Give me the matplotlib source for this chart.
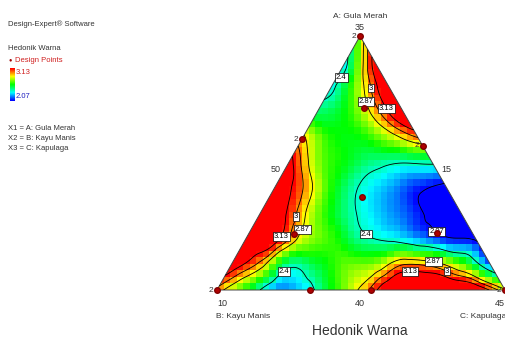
import numpy as np
import matplotlib.pyplot as plt
import matplotlib.tri as mtri
from matplotlib.colors import LinearSegmentedColormap, Normalize
from matplotlib.patches import Polygon

plt.rcParams['font.family'] = ['Liberation Sans', 'DejaVu Sans']

# Hedonik Warna on rows of constant A (Gula Merah), from the B-C edge up to the
# A vertex; every row runs from the B side (Kayu Manis) to the C side (Kapulaga)
warna_a00 = [2.95, 2.60, 2.22, 2.30, 2.60, 2.90, 3.30, 3.40, 3.40, 3.30, 2.90]
warna_a01 = [3.25, 2.95, 2.45, 2.55, 2.70, 2.75, 3.00, 2.95, 2.70, 2.20]
warna_a02 = [3.35, 3.20, 2.80, 2.65, 2.45, 2.37, 2.25, 2.10, 2.05]
warna_a03 = [3.40, 3.10, 2.72, 2.47, 2.30, 2.18, 2.03, 2.00]
warna_a04 = [3.30, 3.00, 2.62, 2.38, 2.25, 2.10, 2.02]
warna_a05 = [3.20, 2.75, 2.58, 2.45, 2.40, 2.42]
warna_a06 = [2.90, 2.62, 2.60, 2.78, 3.00]
warna_a07 = [2.50, 2.60, 2.93, 3.35]
warna_a08 = [2.35, 2.80, 3.35]
warna_a09 = [2.35, 3.20]
warna_a10 = [2.75]

# design points as fractions of A and C (B is the rest), with replicate counts
titik_a = [1.0, 0.717, 0.594, 0.567, 0.366, 0.220, 0.224, 0.0, 0.0, 0.0, 0.0]
titik_c = [0.0, 0.154, 0.0, 0.434, 0.321, 0.158, 0.653, 0.0, 0.323, 0.535, 1.0]
titik_rep = [2, 1, 2, 2, 1, 1, 1, 2, 1, 1, 2]

level = [2.07, 2.4, 2.87, 3.0, 3.13]
level_teks = {2.07: '2.07', 2.4: '2.4', 2.87: '2.87', 3.0: '3', 3.13: '3.13'}

W, H = 506, 340
TOP_X = 0.4965  # x of the A vertex, B-C edge runs from 0 to 1


def ke_xy(a, c):
    a = np.asarray(a, float)
    c = np.asarray(c, float)
    return c + TOP_X * a, a


def px(x, y):
    return x / W, 1 - y / H


def ax_px(x, y):
    # pixel position inside the triangle box -> data coordinates
    return (x - 217) / 288, (290 - y) / 254


baris = [warna_a00, warna_a01, warna_a02, warna_a03, warna_a04, warna_a05,
         warna_a06, warna_a07, warna_a08, warna_a09, warna_a10]
n = len(baris) - 1
ga, gc, gz = [], [], []
for i, row in enumerate(baris):
    for j, v in enumerate(row):
        ga.append(i / n)
        gc.append(j / n)
        gz.append(v)
gx, gy = ke_xy(ga, gc)
tri = mtri.Triangulation(gx, gy)
interp = mtri.CubicTriInterpolator(tri, np.array(gz), kind='geom')

cmap = LinearSegmentedColormap.from_list(
    'de', ['#0000ff', '#00ffff', '#00ff00', '#ffff00', '#ff0000'])
norm = Normalize(vmin=2.07, vmax=3.13, clip=True)

fig = plt.figure(figsize=(W / 100, H / 100), dpi=100)
ax = fig.add_axes([217 / W, 50 / H, 288 / W, 254 / H])
ax.set_xlim(0, 1)
ax.set_ylim(0, 1)
ax.axis('off')

# blocky cells like the Design-Expert surface
nx, ny = 44, 39
xe = np.linspace(0, 1, nx + 1)
ye = np.linspace(0, 1, ny + 1)
xc, yc = np.meshgrid((xe[:-1] + xe[1:]) / 2, (ye[:-1] + ye[1:]) / 2)
ca = np.clip(yc, 0, 1)
cc = xc - TOP_X * ca
cb = 1 - ca - cc
ca, cb, cc = [np.clip(v, 0, None) for v in (ca, cb, cc)]
s = ca + cb + cc
ca, cc = ca / s, cc / s
qx, qy = ke_xy(ca, cc)
qx = 0.5 + (qx - 0.5) * 0.998
qy = 0.33 + (qy - 0.33) * 0.998
zc = interp(qx, qy)

verts = [(0, 0), (1, 0), (TOP_X, 1)]
segitiga = Polygon(verts, closed=True, transform=ax.transData)
mesh = ax.pcolormesh(xe, ye, zc, cmap=cmap, norm=norm, shading='flat')
mesh.set_clip_path(segitiga)

refiner = mtri.UniformTriRefiner(tri)
tri_ref, z_ref = refiner.refine_field(np.array(gz), subdiv=4, triinterpolator=interp)
cs = ax.tricontour(tri_ref, z_ref, levels=level, colors='k', linewidths=0.6)

posisi_label = [ax_px(338, 75), ax_px(371, 88), ax_px(364, 102), ax_px(389, 107),
                ax_px(295, 216), ax_px(298, 228), ax_px(278, 235), ax_px(365, 235),
                ax_px(440, 227), ax_px(288, 277), ax_px(433, 263), ax_px(447, 270),
                ax_px(410, 273)]
labels = ax.clabel(cs, fmt=level_teks, fontsize=5.5, inline=False, manual=posisi_label)
for t in labels:
    t.set_rotation(0)
    t.set_zorder(4)
    t.set_bbox(dict(boxstyle='square,pad=0.12', fc='white', ec='black', lw=0.5))

ax.add_patch(Polygon(verts, closed=True, fill=False, ec='#444444', lw=0.7,
                     clip_on=False))

tx, ty = ke_xy(titik_a, titik_c)
ax.plot(tx, ty, 'o', color='#b00000', mec='#800000', ms=4, clip_on=False, zorder=5)
for x, y, r in zip(tx, ty, titik_rep):
    if r > 1:
        ax.text(x - 0.012, y, str(r), fontsize=6, color='#333333',
                ha='right', va='center', zorder=6)

# axis texts around the triangle
abu = '#333333'
fig.text(*px(360, 16), 'A: Gula Merah', fontsize=6, color=abu, ha='center', va='center')
fig.text(*px(360, 28), '35', fontsize=6.5, color=abu, ha='center', va='center')
fig.text(*px(276, 170), '50', fontsize=6.5, color=abu, ha='center', va='center')
fig.text(*px(446, 170), '15', fontsize=6.5, color=abu, ha='center', va='center')
fig.text(*px(222, 303), '10', fontsize=6.5, color=abu, ha='center', va='center')
fig.text(*px(360, 303), '40', fontsize=6.5, color=abu, ha='center', va='center')
fig.text(*px(500, 303), '45', fontsize=6.5, color=abu, ha='center', va='center')
fig.text(*px(216, 317), 'B: Kayu Manis', fontsize=6, color=abu, ha='left', va='center')
fig.text(*px(506, 317), 'C: Kapulaga', fontsize=6, color=abu, ha='right', va='center')
fig.text(*px(360, 331), 'Hedonik Warna', fontsize=10, color=abu, ha='center', va='center')

# side legend
fig.text(*px(8, 24), 'Design-Expert® Software', fontsize=5.5, color=abu, va='center')
fig.text(*px(8, 48), 'Hedonik Warna', fontsize=5.5, color=abu, va='center')
fig.text(*px(10, 60), '●', fontsize=4, color='#a00000', ha='center', va='center')
fig.text(*px(15, 60), 'Design Points', fontsize=5.5, color='#d02020', va='center')
cax = fig.add_axes([10 / W, 1 - 101 / H, 5 / W, 33 / H])
cax.imshow(np.linspace(3.13, 2.07, 50)[:, None], aspect='auto', cmap=cmap, norm=norm)
cax.axis('off')
fig.text(*px(16, 72), '3.13', fontsize=5.5, color='#d02020', va='center')
fig.text(*px(16, 97), '2.07', fontsize=5.5, color='#2020c0', va='center')
fig.text(*px(8, 128), 'X1 = A: Gula Merah', fontsize=5.5, color=abu, va='center')
fig.text(*px(8, 138), 'X2 = B: Kayu Manis', fontsize=5.5, color=abu, va='center')
fig.text(*px(8, 148), 'X3 = C: Kapulaga', fontsize=5.5, color=abu, va='center')

fig.savefig('out.png', dpi=100)
